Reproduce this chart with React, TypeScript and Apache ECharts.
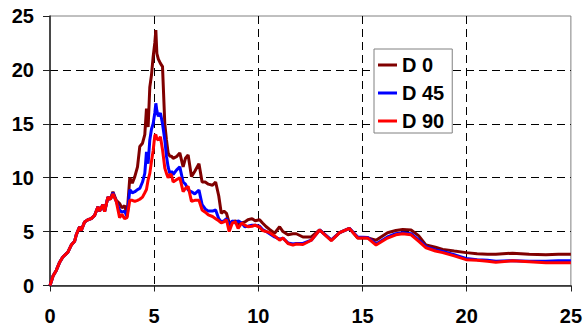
import React, { useEffect, useRef } from "react";
import * as echarts from "echarts";

const xValues = [
  0, 0.15, 0.3, 0.45, 0.6, 0.7, 0.86, 1.02, 1.18, 1.26, 1.42, 1.5, 1.66, 1.82, 1.98, 2.14, 2.3, 2.38, 2.54, 2.62,
  2.78, 2.9, 3.02, 3.18, 3.34, 3.45, 3.58, 3.7, 3.83, 3.95, 4.07, 4.2, 4.31, 4.44, 4.55, 4.63, 4.71, 4.79, 4.87, 4.95,
  5.03, 5.08, 5.13, 5.2, 5.3, 5.4, 5.51, 5.59, 5.67, 5.75, 5.83, 5.91, 6.07, 6.23, 6.39, 6.5, 6.63, 6.79, 6.95, 7.15,
  7.3, 7.45, 7.6, 7.8, 7.95, 8.1, 8.22, 8.35, 8.47, 8.6, 8.75, 8.9, 9.03, 9.2, 9.35, 9.5, 9.7, 9.85, 10.06, 10.2,
  10.38, 10.54, 10.78, 11.02, 11.18, 11.42, 11.66, 11.82, 12.14, 12.54, 12.94, 13.5, 13.9, 14.37, 14.77, 15.25, 15.65, 16.2, 16.6, 16.93,
  17.33, 17.7, 18.05, 18.5, 18.85, 19.4, 19.97, 20.5, 21.0, 21.4, 22.2, 23.0, 23.8, 24.4, 25,
];

const d0 = [
  0, 0.9, 1.4, 2.1, 2.6, 2.8, 3.1, 3.75, 4.1, 4.7, 5.45, 5.1, 5.9, 6.1, 6.2, 6.5, 7.3, 6.9, 7.5, 6.85,
  8.2, 8.0, 8.7, 7.9, 7.6, 7.2, 7.4, 6.6, 10.0, 9.5, 10.1, 11.0, 12.9, 13.2, 14.0, 16.4, 14.7, 18.4, 19.5, 21.2,
  22.5, 23.7, 21.5, 21.0, 20.6, 20.3, 15.0, 13.5, 12.3, 12.0, 12.0, 11.8, 11.95, 12.3, 11.0, 11.8, 12.1, 10.1, 10.6, 11.3,
  9.6, 9.6, 9.4, 9.3, 9.6, 8.3, 6.7, 6.9, 6.7, 5.8, 5.9, 6.0, 5.7, 5.8, 5.9, 6.1, 6.2, 6.0, 6.1, 5.8,
  5.45, 5.2, 4.85, 5.45, 5.0, 4.7, 4.8, 4.8, 4.5, 4.5, 5.15, 4.2, 4.9, 5.3, 4.4, 4.4, 4.2, 4.9, 5.1, 5.2,
  5.15, 4.6, 3.75, 3.55, 3.35, 3.2, 3.05, 2.95, 2.9, 2.9, 3.0, 2.9, 2.85, 2.9, 2.9,
];

const d45 = [
  0, 0.9, 1.4, 2.1, 2.6, 2.8, 3.1, 3.75, 4.1, 4.7, 5.45, 5.1, 5.9, 6.1, 6.2, 6.5, 7.3, 6.9, 7.5, 6.85,
  8.2, 8.0, 8.6, 7.8, 7.0, 6.8, 6.9, 6.4, 8.9, 8.6, 8.7, 8.9, 9.0, 9.6, 10.4, 12.4, 11.3, 13.5, 14.5, 15.0,
  16.0, 16.9, 16.2, 15.7, 16.0, 15.0, 13.5, 12.0, 11.0, 10.4, 10.6, 10.3, 10.7, 11.0, 9.6, 9.4, 8.86, 8.7, 8.5, 8.86,
  7.5, 7.1, 6.9, 6.9, 7.0, 6.2, 5.9, 6.0, 6.2, 5.6, 6.0, 5.8, 6.0, 5.8, 5.45, 5.5, 5.6, 5.6, 5.5, 5.2,
  5.0, 4.8, 4.5, 4.3, 4.4, 3.95, 3.85, 3.9, 3.9, 4.2, 5.15, 4.2, 4.9, 5.3, 4.5, 4.45, 3.85, 4.5, 4.8, 4.9,
  4.8, 4.2, 3.6, 3.3, 3.15, 2.85, 2.5, 2.4, 2.35, 2.25, 2.3, 2.25, 2.25, 2.3, 2.3,
];

const d90 = [
  0, 0.9, 1.4, 2.1, 2.6, 2.8, 3.1, 3.75, 4.1, 4.7, 5.45, 5.1, 5.9, 6.1, 6.2, 6.5, 7.3, 6.9, 7.5, 6.85,
  8.2, 8.0, 8.5, 7.8, 6.3, 6.6, 6.2, 6.3, 7.9, 7.9, 7.8, 7.9, 8.0, 8.2, 8.6, 8.9, 9.8, 10.4, 11.5, 12.5,
  13.9, 14.0, 13.6, 13.5, 13.8, 12.6, 10.9, 10.4, 10.0, 10.3, 10.25, 9.6, 9.8, 10.0, 8.7, 9.0, 9.2, 7.8, 7.9, 7.9,
  7.0, 6.8, 6.55, 6.4, 6.2, 6.0, 5.8, 5.9, 6.1, 5.0, 5.8, 5.9, 5.3, 5.8, 5.6, 5.45, 5.5, 5.6, 5.4, 5.1,
  5.0, 4.9, 4.6, 4.2, 4.4, 3.9, 3.75, 3.85, 3.8, 4.2, 5.15, 4.15, 4.9, 5.3, 4.4, 4.4, 3.75, 4.4, 4.7, 4.8,
  4.7, 4.1, 3.5, 3.2, 3.05, 2.75, 2.4, 2.35, 2.25, 2.15, 2.3, 2.2, 2.1, 2.1, 2.1,
];

const seriesNames = ["D 0", "D 45", "D 90"];
const seriesColors = ["#800000", "#0000ff", "#ff0000"];
const seriesValues = [d0, d45, d90];

const FONT = "'Liberation Sans', Arial, sans-serif";

export default function App() {
  const ref = useRef<HTMLDivElement>(null);
  useEffect(() => {
    if (!ref.current) return;
    const chart = echarts.init(ref.current, undefined, { renderer: "svg" });
    const axisLabel = { color: "#000", fontSize: 20, fontWeight: "bold", fontFamily: FONT };
    const splitLine = {
      show: true,
      showMaxLine: false,
      showMinLine: false,
      lineStyle: { color: "#000", width: 1, type: [8, 5] },
    };
    chart.setOption({
      animation: false,
      backgroundColor: "#fff",
      grid: {
        left: 50,
        right: 13,
        top: 16,
        bottom: 43.5,
        show: true,
        borderColor: "#808080",
        borderWidth: 1,
        containLabel: false,
      },
      legend: {
        orient: "vertical",
        left: 374,
        top: 49,
        data: seriesNames,
        icon: "rect",
        itemWidth: 19,
        itemHeight: 3,
        itemGap: 8,
        padding: [6, 8, 2, 4],
        borderColor: "#808080",
        borderWidth: 1,
        backgroundColor: "#fff",
        textStyle: { color: "#000", fontSize: 20, fontWeight: "bold", fontFamily: FONT },
      },
      xAxis: {
        type: "value",
        min: 0,
        max: 25,
        interval: 5,
        axisLine: { show: true, onZero: false, lineStyle: { color: "#222", width: 1.5 } },
        axisTick: { show: true, length: 6, lineStyle: { color: "#222", width: 1 } },
        axisLabel: { ...axisLabel, margin: 20 },
        splitLine,
      },
      yAxis: {
        type: "value",
        min: 0,
        max: 25,
        interval: 5,
        axisLine: { show: true, onZero: false, lineStyle: { color: "#222", width: 1.5 } },
        axisTick: { show: true, length: 7, lineStyle: { color: "#222", width: 1 } },
        axisLabel: { ...axisLabel, margin: 16 },
        splitLine,
      },
      series: seriesNames.map((name, i) => ({
        name,
        type: "line",
        data: xValues.map((x, j) => [x, seriesValues[i][j]]),
        showSymbol: false,
        symbol: "none",
        color: seriesColors[i],
        lineStyle: { color: seriesColors[i], width: 3 },
        z: 2 + i,
      })),
    });
    return () => chart.dispose();
  }, []);
  return (
    <div
      ref={ref}
      style={{ position: "fixed", left: 0, top: 0, width: 585, height: 329, background: "#fff" }}
    />
  );
}
